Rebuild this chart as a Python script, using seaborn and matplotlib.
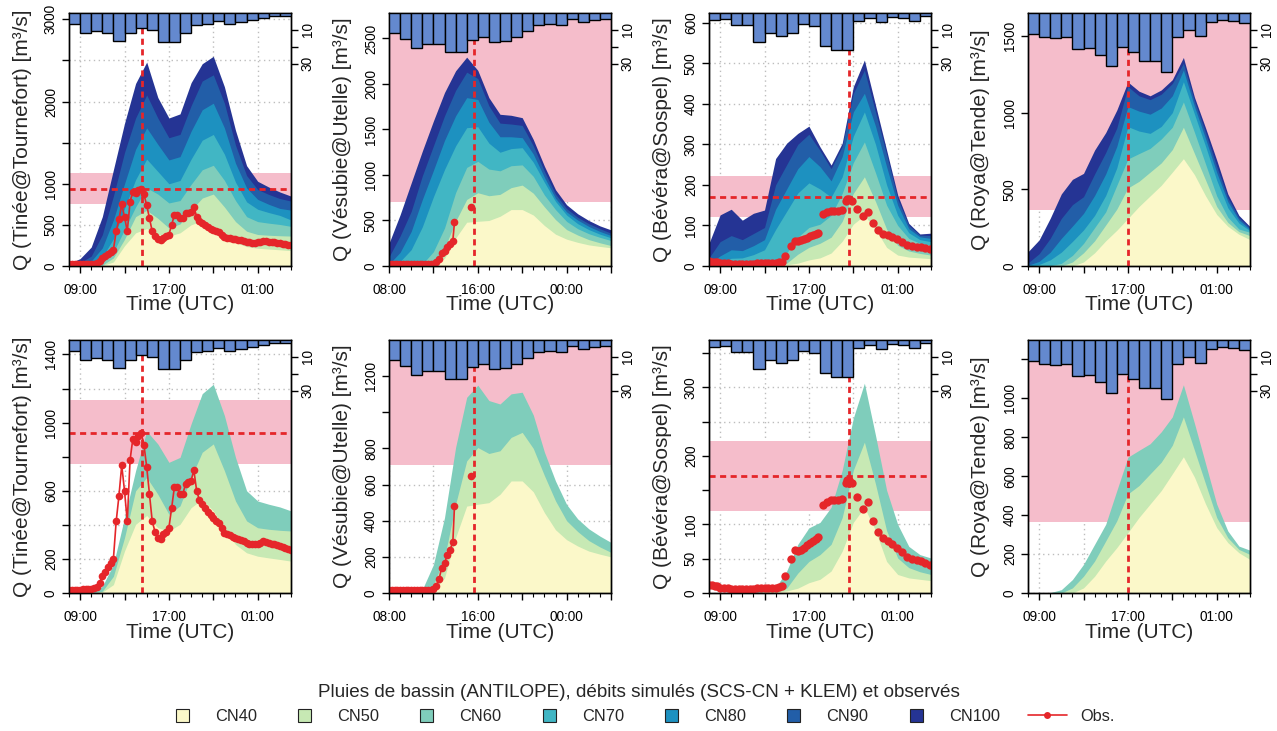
import numpy as np
import matplotlib
matplotlib.use("Agg")
import matplotlib.pyplot as plt
from matplotlib.patches import Patch, Rectangle
from matplotlib.lines import Line2D
from matplotlib.legend_handler import HandlerPatch
import seaborn as sns

sns.set_style("white")
plt.rcParams["font.family"] = ["Liberation Sans", "DejaVu Sans"]

# ---------------------------------------------------------------------------
# Time axes, in decimal hours from 08:00 (24 = midnight, 28 = 04:00 next day)
# ---------------------------------------------------------------------------
hours = np.arange(8, 29)             # hourly simulated discharge
rain_hours = np.arange(8, 28)        # start hour of each hourly rain total
obs15 = np.arange(8, 28.01, 0.25)    # 15-min gauge record

basins = ["Tinée@Tournefort", "Vésubie@Utelle", "Bévéra@Sospel", "Roya@Tende"]
cn_labels = ["CN40", "CN50", "CN60", "CN70", "CN80", "CN90", "CN100"]
cn_colors = ["#FBF8C9", "#C7E9B4", "#7FCDBB", "#41B6C4", "#1D91C0", "#225EA8", "#253494"]

# ---------------------------------------------------------------------------
# Basin rainfall (ANTILOPE), mm per hour
# ---------------------------------------------------------------------------
rain_tinee = [6.3, 11.9, 10.5, 11.9, 16.8, 11.9, 8.9, 9.9, 17.4, 17.4,
              11.9, 7.3, 6.3, 5.0, 6.3, 5.5, 4.0, 3.0, 2.0, 1.6]
rain_vesubie = [12, 15.5, 21, 18.5, 18.5, 23.3, 23.3, 16, 14, 17.4,
                16.4, 14, 10.5, 7.1, 6.5, 7.1, 3.8, 5.1, 4.2, 3.8]
rain_bevera = [4.3, 3.3, 7, 7, 17, 12, 13.5, 12, 6.8, 8,
               19.7, 22, 22, 5, 3, 5.1, 2.5, 3.1, 4.5, 2]
rain_roya = [12.5, 14.5, 15, 14.5, 21.5, 21, 25, 31.4, 20.4, 23,
             28.2, 28.2, 34.8, 14.4, 10, 13.6, 5.2, 4.3, 5, 6]

# ---------------------------------------------------------------------------
# Simulated discharge (SCS-CN + KLEM), m3/s, hourly 08:00 -> 04:00
# ---------------------------------------------------------------------------
tinee_cn40 = [0, 0, 0, 5, 49, 246, 403, 455, 383, 364, 403, 501, 550, 482, 383, 285, 236, 216, 206, 197, 187]
tinee_cn50 = [0, 0, 0, 10, 98, 324, 600, 678, 580, 462, 511, 678, 826, 875, 718, 540, 423, 383, 374, 368, 364]
tinee_cn60 = [0, 0, 0, 39, 167, 442, 718, 950, 875, 767, 796, 993, 1170, 1225, 1042, 796, 600, 540, 521, 505, 482]
tinee_cn70 = [0, 5, 25, 110, 330, 700, 1050, 1300, 1150, 1000, 1040, 1300, 1530, 1600, 1360, 1020, 780, 690, 650, 615, 560]
tinee_cn80 = [0, 15, 60, 220, 560, 1000, 1420, 1680, 1480, 1290, 1330, 1640, 1900, 1980, 1680, 1250, 950, 810, 750, 700, 680]
tinee_cn90 = [0, 40, 120, 380, 850, 1380, 1800, 2080, 1800, 1560, 1600, 1950, 2250, 2325, 1980, 1470, 1100, 930, 870, 820, 790]
tinee_cn100 = [30, 90, 230, 600, 1170, 1735, 2220, 2480, 2050, 1800, 1850, 2230, 2460, 2550, 2180, 1650, 1220, 1030, 960, 900, 850]

vesubie_cn40 = [0, 0, 0, 0, 10, 83, 306, 481, 491, 500, 546, 620, 620, 560, 445, 350, 295, 260, 232, 215, 200]
vesubie_cn50 = [0, 0, 0, 0, 46, 194, 491, 731, 805, 772, 787, 861, 889, 800, 650, 510, 400, 340, 290, 255, 225]
vesubie_cn60 = [0, 0, 0, 19, 157, 417, 806, 1083, 1150, 1065, 1046, 1102, 1111, 985, 780, 620, 490, 410, 355, 315, 280]
vesubie_cn70 = [0, 50, 180, 430, 760, 1060, 1320, 1520, 1530, 1350, 1250, 1290, 1300, 1140, 920, 710, 560, 465, 400, 350, 310]
vesubie_cn80 = [20, 150, 380, 730, 1050, 1380, 1650, 1850, 1830, 1580, 1420, 1420, 1410, 1230, 975, 745, 595, 505, 435, 380, 335]
vesubie_cn90 = [100, 330, 600, 990, 1320, 1650, 1930, 2130, 2060, 1760, 1570, 1560, 1545, 1320, 1040, 790, 630, 535, 465, 410, 360]
vesubie_cn100 = [250, 563, 913, 1262, 1593, 1906, 2145, 2295, 2150, 1850, 1667, 1656, 1630, 1390, 1097, 839, 673, 574, 500, 441, 397]

bevera_cn40 = [0, 0, 0, 0, 0, 0, 1, 3, 7, 15, 20, 32, 61, 103, 125, 91, 46, 27, 22, 20, 18]
bevera_cn50 = [0, 0, 0, 0, 0, 2, 4, 7, 29, 46, 56, 71, 110, 179, 220, 159, 91, 51, 37, 31, 27]
bevera_cn60 = [0, 0, 2, 3, 4, 5, 8, 32, 71, 95, 103, 125, 179, 255, 306, 230, 150, 100, 68, 56, 51]
bevera_cn70 = [0, 8, 19, 20, 28, 40, 90, 135, 180, 205, 190, 170, 220, 320, 380, 300, 200, 125, 82, 65, 60]
bevera_cn80 = [5, 25, 40, 38, 50, 65, 140, 190, 240, 270, 245, 210, 270, 380, 426, 345, 245, 150, 92, 72, 68]
bevera_cn90 = [20, 60, 75, 65, 80, 95, 200, 250, 300, 325, 285, 240, 295, 425, 483, 380, 275, 165, 100, 76, 75]
bevera_cn100 = [56, 126, 140, 113, 130, 138, 265, 303, 327, 345, 294, 249, 303, 442, 508, 397, 286, 175, 105, 79, 81]

roya_cn40 = [0, 0, 0, 0, 0, 26, 86, 164, 233, 310, 388, 457, 526, 612, 700, 595, 457, 336, 259, 207, 172]
roya_cn50 = [0, 0, 0, 0, 26, 86, 164, 267, 371, 509, 552, 612, 672, 759, 905, 733, 560, 388, 284, 224, 198]
roya_cn60 = [0, 0, 2, 17, 69, 147, 250, 353, 526, 698, 733, 767, 828, 905, 1070, 871, 664, 457, 319, 241, 220]
roya_cn70 = [0, 10, 40, 90, 160, 235, 330, 460, 640, 909, 880, 865, 910, 1000, 1202, 990, 780, 560, 380, 280, 230]
roya_cn80 = [5, 30, 90, 180, 260, 343, 460, 600, 780, 1040, 1010, 990, 1030, 1110, 1278, 1040, 830, 610, 420, 300, 238]
roya_cn90 = [20, 80, 180, 310, 400, 452, 600, 740, 900, 1170, 1110, 1085, 1120, 1190, 1322, 1075, 870, 650, 445, 315, 248]
roya_cn100 = [93, 170, 311, 470, 565, 604, 756, 870, 1017, 1200, 1140, 1110, 1148, 1215, 1360, 1100, 900, 691, 470, 330, 257]

# ---------------------------------------------------------------------------
# Observed discharge, m3/s
# ---------------------------------------------------------------------------
obs_tinee_t = obs15
obs_tinee_q = [20, 20, 20, 20, 20, 21, 22, 22, 24, 28, 35, 60, 100, 125, 150, 175,
               200, 420, 570, 750, 600, 420, 780, 905, 885, 920, 940, 870, 740, 580,
               420, 360, 325, 315, 344, 360, 383, 500, 625, 620, 580, 580, 640, 650,
               660, 720, 600, 545, 520, 500, 475, 455, 440, 423, 413, 380, 354, 345,
               338, 330, 324, 318, 312, 306, 295, 286, 285, 285, 290, 295, 303, 300,
               296, 290, 286, 280, 275, 270, 264, 258, 250]

obs_vesubie_t = [8.0, 8.25, 8.5, 8.75, 9.0, 9.25, 9.5, 9.75, 10.0, 10.25, 10.5, 10.75,
                 11.0, 11.25, 11.5, 11.75, 12.0, 12.25, 12.5, 12.75, 13.0, 13.25, 13.5,
                 13.75, 13.9, 14.5, 15.4]
obs_vesubie_q = [18, 18, 18, 18, 18, 18, 18, 18, 18, 18, 18, 18, 18, 18, 19, 19,
                 20, 40, 75, 140, 165, 210, 240, 280, 480, np.nan, 650]

obs_bevera_t = [8.0, 8.25, 8.5, 8.75, 9.0, 9.33, 9.67, 10.0, 10.33, 10.67, 11.0, 11.33,
                11.67, 12.0, 12.33, 12.67, 13.0, 13.33, 13.67, 14.0, 14.33, 14.55, 14.85,
                15.38, 15.77, 16.05, 16.3, 16.58, 16.85, 17.1, 17.35, 17.6, 17.85, 18.27,
                18.6, 18.95, 19.3, 19.6, 19.95, 20.3, 20.45, 20.6, 20.85, 21.3, 21.85,
                22.35, 22.8, 23.25, 23.7, 24.1, 24.5, 24.9, 25.35, 25.8, 26.25, 26.7,
                27.1, 27.5, 27.9]
obs_bevera_q = [12, 11, 10, 10, 8, 7, 7, 6, 6, 6, 6, 6, 6, 6, 7, 7, 7, 8, 8, 8, 9, 10,
                25, 49, 62, 61, 63, 66, 70, 73, 76, 79, 81, 129, 132, 135, 135, 136, 137,
                160, 165, 165, 160, 140, 123, 133, 105, 89, 80, 76, 72, 66, 60, 53, 50,
                48, 46, 44, 41]

# ---------------------------------------------------------------------------
# Flood reference ranges, observed peaks and peak times
# ---------------------------------------------------------------------------
band_low = [760, 706, 120, 365]
band_high = [1130, None, 222, None]
peak_q = [940, None, 170, None]
peak_time = [14.57, 15.66, 20.65, 17.0]

# ---------------------------------------------------------------------------
# Axis ranges and ticks
# ---------------------------------------------------------------------------
top_ymax = [3077, 2780, 624, 1650]
bottom_ymax = [1485, 1400, 369, 1300]

top_yticks = [[0, 500, 1000, 1500, 2000, 2500, 3000],
              [0, 500, 1000, 1500, 2000, 2500],
              [0, 100, 200, 300, 400, 500, 600],
              [0, 500, 1000, 1500]]
top_ylabels = [["0", "500", "1000", "", "2000", "", "3000"],
               ["0", "500", "1000", "1500", "2000", "2500"],
               ["0", "100", "200", "300", "400", "500", "600"],
               ["0", "500", "1000", "1500"]]
bottom_yticks = [[0, 200, 400, 600, 800, 1000, 1200, 1400],
                 [0, 200, 400, 600, 800, 1000, 1200],
                 [0, 50, 100, 150, 200, 250, 300, 350],
                 [0, 200, 400, 600, 800, 1000, 1200]]
bottom_ylabels = [["0", "200", "", "600", "", "1000", "", "1400"],
                  ["0", "200", "400", "600", "800", "", "1200"],
                  ["0", "50", "100", "", "200", "", "300", ""],
                  ["0", "200", "400", "600", "800", "1000", ""]]

xticks_9 = [9, 13, 17, 21, 25]
xlabels_9 = ["09:00", "", "17:00", "", "01:00"]
xticks_8 = [8, 12, 16, 20, 24, 28]
xlabels_8 = ["08:00", "", "16:00", "", "00:00", ""]
basin_xticks = [(xticks_9, xlabels_9), (xticks_8, xlabels_8),
                (xticks_9, xlabels_9), (xticks_9, xlabels_9)]

rain_ticks = [10, 20, 30]
rain_ticklabels = ["10", "", "30"]

sim = [
    [tinee_cn40, tinee_cn50, tinee_cn60, tinee_cn70, tinee_cn80, tinee_cn90, tinee_cn100],
    [vesubie_cn40, vesubie_cn50, vesubie_cn60, vesubie_cn70, vesubie_cn80, vesubie_cn90, vesubie_cn100],
    [bevera_cn40, bevera_cn50, bevera_cn60, bevera_cn70, bevera_cn80, bevera_cn90, bevera_cn100],
    [roya_cn40, roya_cn50, roya_cn60, roya_cn70, roya_cn80, roya_cn90, roya_cn100],
]
rain = [rain_tinee, rain_vesubie, rain_bevera, rain_roya]
obs = [(obs_tinee_t, obs_tinee_q, True),
       (obs_vesubie_t, obs_vesubie_q, True),
       (obs_bevera_t, obs_bevera_q, False),
       None]

RED = "#E5262A"
PINK = "#F5BDCB"
BAR = "#6489CF"
TICK_FS = 9.8
LABEL_FS = 15

fig = plt.figure(figsize=(12.77, 7.31), dpi=100)
W, H = 1277.0, 731.0
col_x = [69, 389, 709, 1028]
row_y = [13, 340]
ax_w, ax_h = 222, 253


def draw_obs(ax, t, q, with_line):
    t = np.asarray(t, dtype=float)
    q = np.asarray(q, dtype=float)
    if not with_line:
        sns.scatterplot(x=t, y=q, ax=ax, color=RED, s=36, linewidth=0,
                        zorder=4, legend=False)
        return
    # split the record where the gauge stopped reporting
    breaks = np.where(np.isnan(q))[0]
    starts = np.concatenate(([0], breaks + 1))
    ends = np.concatenate((breaks, [len(q)]))
    for s, e in zip(starts, ends):
        if e - s <= 0:
            continue
        sns.lineplot(x=t[s:e], y=q[s:e], ax=ax, color=RED, linewidth=1.2,
                     marker="o", markersize=5.5, markeredgewidth=0,
                     estimator=None, sort=False, zorder=4, legend=False)


for r in range(2):
    for c in range(4):
        ax = fig.add_axes([col_x[c] / W, 1 - (row_y[r] + ax_h) / H, ax_w / W, ax_h / H])
        ymax = top_ymax[c] if r == 0 else bottom_ymax[c]
        ax.set_xlim(8, 28)
        ax.set_ylim(0, ymax)

        # flood reference range
        hi = band_high[c] if band_high[c] is not None else ymax
        ax.axhspan(band_low[c], hi, color=PINK, lw=0, zorder=1)

        # simulated hydrographs, wettest first so drier ones sit on top
        n_cn = 7 if r == 0 else 3
        for q, col in reversed(list(zip(sim[c][:n_cn], cn_colors[:n_cn]))):
            ax.fill_between(hours, 0, q, color=col, lw=0, zorder=2)

        if obs[c] is not None:
            draw_obs(ax, *obs[c])

        ax.axvline(peak_time[c], color=RED, lw=2, ls=(0, (2.2, 1.6)), zorder=5)
        if peak_q[c] is not None:
            ax.axhline(peak_q[c], color=RED, lw=2, ls=(0, (2.2, 1.6)), zorder=5)

        # axes styling
        yt = top_yticks[c] if r == 0 else bottom_yticks[c]
        ytl = top_ylabels[c] if r == 0 else bottom_ylabels[c]
        ax.set_yticks(yt)
        ax.set_yticklabels(ytl, rotation=90, va="center")
        xt, xtl = basin_xticks[c]
        ax.set_xticks(xt)
        ax.set_xticklabels(xtl)
        ax.set_xticks(hours, minor=True)
        ax.tick_params(axis="y", direction="out", length=5, width=1, pad=3,
                       labelsize=TICK_FS, left=True, colors="black")
        ax.tick_params(axis="x", which="major", direction="out", length=5, width=1,
                       pad=7, labelsize=TICK_FS, bottom=True, colors="black")
        ax.tick_params(axis="x", which="minor", direction="out", length=3,
                       width=0.8, bottom=True, colors="black")
        ax.grid(True, which="major", color="#BDBDBD", ls=(0, (1, 2.5)), lw=1)
        ax.set_axisbelow(True)
        for sp in ax.spines.values():
            sp.set_color("black")
            sp.set_linewidth(1)

        ax.set_ylabel(f"Q ({basins[c]}) [m³/s]", fontsize=LABEL_FS, va="center")
        ax.yaxis.set_label_coords(-(69 - 22) / ax_w, 0.5)
        ax.set_xlabel("Time (UTC)", fontsize=LABEL_FS, va="center")
        ax.xaxis.set_label_coords(0.5, -(305 - 266) / ax_h)

        # hourly basin rainfall hanging from the top
        ax2 = ax.twinx()
        ax2.bar(rain_hours, rain[c], width=1, align="edge", color=BAR,
                edgecolor="black", linewidth=1, zorder=3)
        ax2.set_xlim(8, 28)
        ax2.set_ylim(150, 0)
        ax2.set_yticks(rain_ticks)
        ax2.set_yticklabels(rain_ticklabels, rotation=90, va="center")
        ax2.tick_params(axis="y", direction="out", length=5, width=1, pad=2,
                        labelsize=TICK_FS, right=True, colors="black")
        for sp in ax2.spines.values():
            sp.set_color("black")
            sp.set_linewidth(1)


def square_patch(legend, orig_handle, xdescent, ydescent, width, height, fontsize):
    # small outlined square centred in the handle box
    s = 0.8 * fontsize
    x0 = -xdescent + (width - s) / 2
    y0 = -ydescent + (height - s) / 2
    return Rectangle((x0, y0), s, s)


handles = [Patch(facecolor=col, edgecolor="#222222", lw=0.8) for col in cn_colors]
handles.append(Line2D([0], [0], color=RED, lw=1.2, marker="o", ms=5, mew=0))
leg_font = {"family": ["Liberation Sans", "DejaVu Sans"], "size": 11.8}
title_font = {"family": ["Liberation Sans", "DejaVu Sans"], "size": 13.6}
fig.legend(handles, cn_labels + ["Obs."], loc="center",
           bbox_to_anchor=(0.5, 1 - 704 / H), ncol=8, frameon=False,
           title="Pluies de bassin (ANTILOPE), débits simulés (SCS-CN + KLEM) et observés",
           prop=leg_font, title_fontproperties=title_font,
           handler_map={Patch: HandlerPatch(patch_func=square_patch)},
           handlelength=2.4, handleheight=0.8, handletextpad=0.8, columnspacing=1.7)

fig.savefig("out.png", dpi=100)
